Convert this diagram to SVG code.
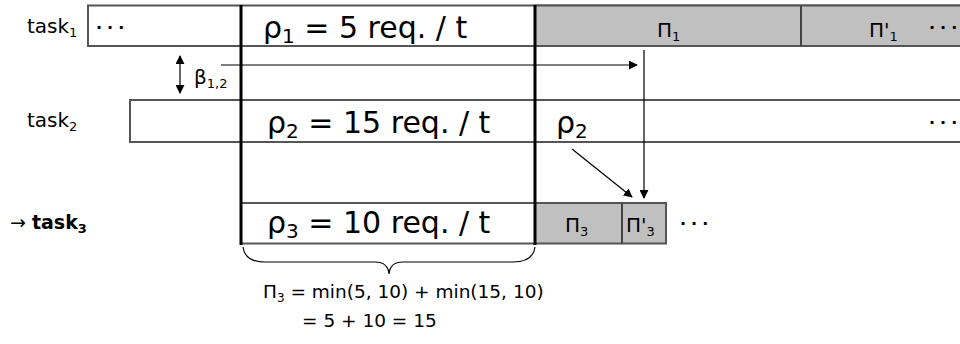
<svg xmlns="http://www.w3.org/2000/svg" width="960" height="344" viewBox="0 0 960 344">
  <defs>
    <marker id="ah" viewBox="0 0 10 10" refX="9" refY="5" markerWidth="9" markerHeight="9" markerUnits="userSpaceOnUse" orient="auto-start-reverse">
      <path d="M0,0 L10,5 L0,10 z" fill="#000"/>
    </marker>
    <style>
      text { font-family: "DejaVu Sans", Verdana, sans-serif; fill: #000; }
      .box { fill: #fff; stroke: #555; stroke-width: 2; }
      .busy { fill: #c0c0c0; stroke: #555; stroke-width: 2; }
      .div { stroke: #444; stroke-width: 2; }
      .thick { stroke: #000; stroke-width: 3; fill: none; }
      .conn { stroke: #000; stroke-width: 1.2; fill: none; marker-end: url(#ah); }
      .big { font-size: 30px; }
      .bsub { font-size: 20px; }
      .lbl { font-size: 20px; }
      .sub { font-size: 13px; }
      .dots { font-size: 16px; font-weight: bold; letter-spacing: 5px; }
      .last { letter-spacing: 0; }
    </style>
  </defs>

  <!-- task1 row -->
  <g id="task1">
    <text class="lbl" x="27" y="33">task<tspan class="sub" dy="4">1</tspan></text>
    <rect class="box" x="88" y="5.5" width="880" height="40.5"/>
    <rect class="busy" x="535" y="5.5" width="433" height="40.5"/>
    <line class="div" x1="801" y1="5.5" x2="801" y2="46"/>
    <text class="dots" x="96" y="33">··<tspan class="last">·</tspan></text>
    <text class="big" x="263" y="38">ρ<tspan class="bsub" dy="5">1</tspan><tspan dy="-5"> = 5 req. / t</tspan></text>
    <text class="lbl" x="657" y="37">Π<tspan class="sub" dy="4">1</tspan></text>
    <text class="lbl" x="869" y="37">Π'<tspan class="sub" dy="4">1</tspan></text>
    <text class="dots" x="929" y="33">··<tspan class="last">·</tspan></text>
  </g>

  <!-- task2 row -->
  <g id="task2">
    <text class="lbl" x="27" y="127">task<tspan class="sub" dy="4">2</tspan></text>
    <rect class="box" x="130" y="100" width="840" height="42"/>
    <text class="big" x="267" y="133">ρ<tspan class="bsub" dy="5">2</tspan><tspan dy="-5"> = 15 req. / t</tspan></text>
    <text class="big" x="556" y="133">ρ<tspan class="bsub" dy="5">2</tspan></text>
    <text class="dots" x="929" y="128">··<tspan class="last">·</tspan></text>
  </g>

  <!-- task3 row -->
  <g id="task3">
    <text x="10" y="229" font-size="19">→ <tspan font-weight="bold">task<tspan font-size="13" dy="4">3</tspan></tspan></text>
    <rect class="box" x="241" y="203" width="294" height="40.5"/>
    <rect class="busy" x="535" y="203" width="131" height="40.5"/>
    <line class="div" x1="622" y1="203" x2="622" y2="243.5"/>
    <text class="big" x="267" y="233">ρ<tspan class="bsub" dy="5">3</tspan><tspan dy="-5"> = 10 req. / t</tspan></text>
    <text class="lbl" x="565" y="232">Π<tspan class="sub" dy="4">3</tspan></text>
    <text class="lbl" x="626" y="232">Π'<tspan class="sub" dy="4">3</tspan></text>
    <text class="dots" x="680" y="229">··<tspan class="last">·</tspan></text>
  </g>

  <!-- window boundaries -->
  <g id="window">
    <line class="thick" x1="241" y1="5" x2="241" y2="245"/>
    <line class="thick" x1="535" y1="5" x2="535" y2="245"/>
  </g>

  <!-- propagation delay -->
  <g id="beta">
    <line x1="180" y1="56" x2="180" y2="93" stroke="#000" stroke-width="1.2" marker-start="url(#ah)" marker-end="url(#ah)"/>
    <text class="lbl" x="194" y="84">β<tspan class="sub" dy="4">1,2</tspan></text>
  </g>

  <!-- connectors -->
  <g id="connectors">
    <line class="conn" x1="221" y1="65" x2="637" y2="65"/>
    <line class="conn" x1="644" y1="50" x2="644" y2="198"/>
    <line class="conn" x1="572" y1="149" x2="632" y2="197"/>
  </g>

  <!-- aggregated capacity -->
  <g id="sum">
    <path d="M243,247 Q245,262 265,262 L375,262 Q388,262 389,274 Q390,262 403,262 L513,262 Q533,262 535,247" fill="none" stroke="#000" stroke-width="1.2"/>
    <text font-size="18.5" x="263" y="298">Π<tspan font-size="12" dy="4">3</tspan><tspan dy="-4"> = min(5, 10) + min(15, 10)</tspan></text>
    <text font-size="18.5" x="302" y="327">= 5 + 10 = 15</text>
  </g>
</svg>
